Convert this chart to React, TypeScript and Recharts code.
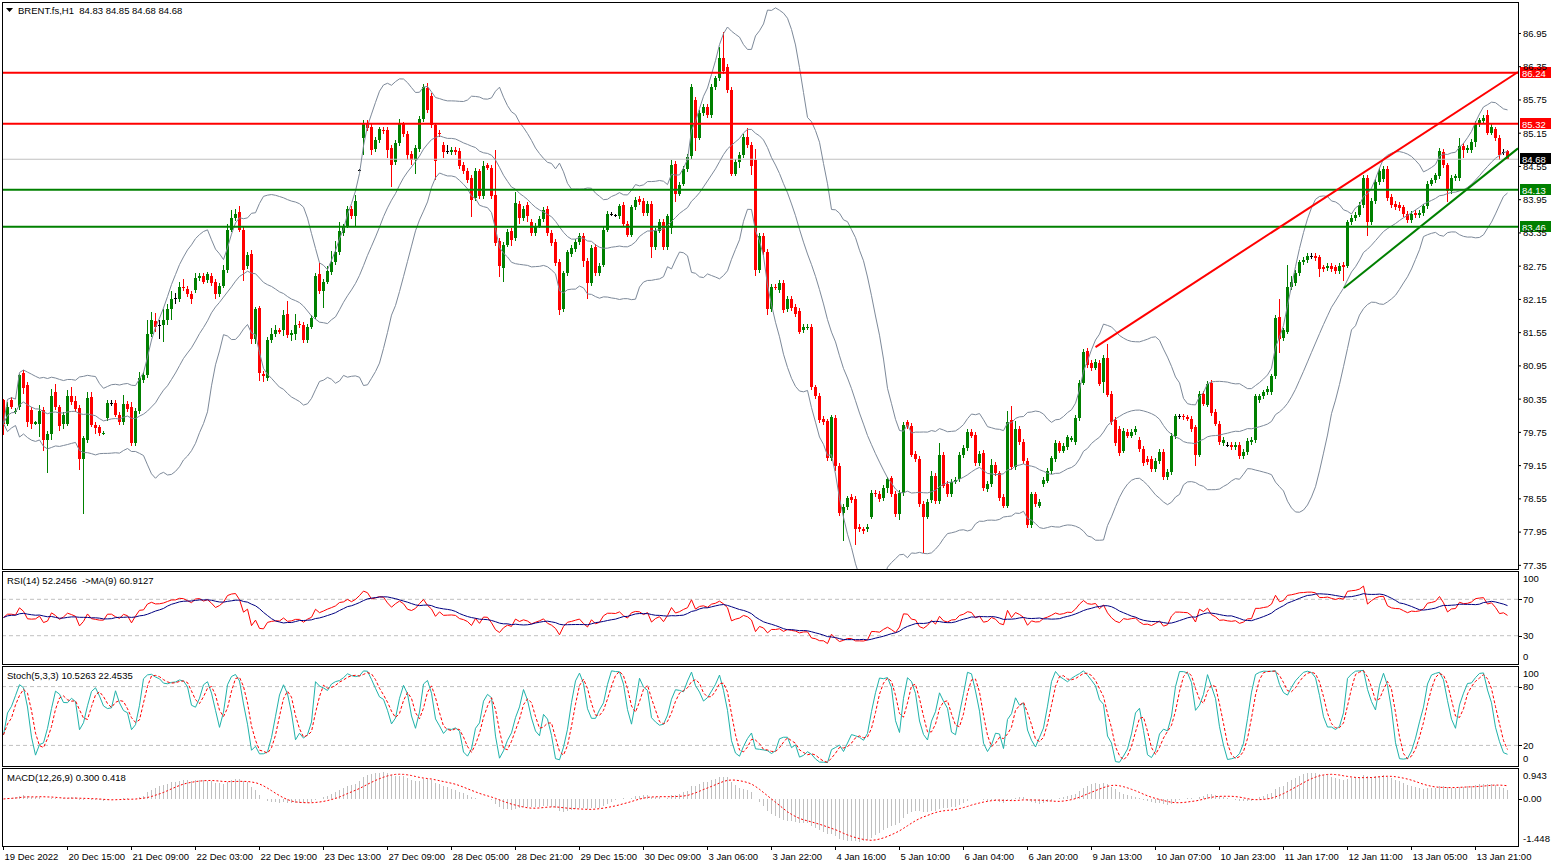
import React from 'react';
import { ComposedChart, Bar, Line, XAxis, YAxis, ReferenceLine } from 'recharts';

const FONT = '"Liberation Sans", Arial, sans-serif';
const UP = '#008000';
const DOWN = '#ff0000';
const BAND = '#7d8999';

// hourly candles, 19 Dec 2022 -> 13 Jan 2023
const opens = [
  80.33, 79.91, 80.33, 80.13, 80.20, 80.83, 80.61, 80.15, 79.91, 79.91,
  80.15, 79.61, 79.72, 80.48, 80.20, 79.91, 79.91, 80.41, 80.31, 80.19,
  79.27, 79.61, 80.39, 79.89, 79.84, 79.73, 80.01, 80.28, 80.28, 80.07,
  79.94, 80.27, 80.20, 79.55, 80.14, 80.69, 80.79, 81.53, 81.76, 81.68,
  81.68, 81.78, 81.97, 82.17, 82.16, 82.37, 82.34, 82.25, 82.32, 82.53,
  82.58, 82.50, 82.57, 82.46, 82.24, 82.40, 82.68, 83.41, 83.62, 83.73,
  83.41, 82.75, 82.97, 81.44, 81.99, 80.81, 80.73, 81.42, 81.53, 81.59,
  81.59, 81.88, 81.50, 81.52, 81.71, 81.69, 81.42, 81.66, 81.84, 82.60,
  82.30, 82.47, 82.64, 82.82, 83.00, 83.35, 83.48, 83.78, 83.65, 84.48,
  85.06, 85.34, 85.27, 84.86, 85.03, 85.21, 85.21, 84.88, 84.63, 84.97,
  85.31, 85.14, 84.78, 84.67, 84.86, 85.41, 85.96, 85.83, 85.29, 85.16,
  84.94, 84.83, 84.81, 84.85, 84.83, 84.58, 84.47, 84.35, 83.98, 84.46,
  84.01, 84.57, 84.53, 84.04, 83.21, 82.71, 83.14, 83.39, 83.25, 83.87,
  83.62, 83.85, 83.55, 83.35, 83.48, 83.60, 83.78, 83.35, 83.19, 82.83,
  81.97, 82.62, 82.97, 83.06, 83.19, 83.29, 82.84, 82.45, 83.10, 82.62,
  82.78, 83.41, 83.69, 83.67, 83.65, 83.85, 83.52, 83.32, 83.81, 83.96,
  83.93, 83.71, 83.88, 83.10, 83.39, 83.55, 83.10, 83.43, 84.60, 84.06,
  84.24, 84.50, 84.73, 85.75, 85.07, 85.51, 85.63, 85.47, 85.98, 86.14,
  86.50, 86.34, 85.93, 84.42, 84.63, 84.76, 85.09, 84.94, 84.67, 82.68,
  83.29, 83.01, 81.97, 82.38, 82.32, 82.45, 81.97, 82.16, 82.01, 81.94,
  81.59, 81.65, 81.65, 80.56, 80.41, 79.99, 79.95, 79.28, 80.01, 79.15,
  78.29, 78.40, 78.58, 78.55, 78.04, 78.00, 78.00, 78.23, 78.66, 78.64,
  78.57, 78.75, 78.92, 78.64, 78.27, 78.66, 79.93, 79.87, 79.36, 79.27,
  78.46, 78.23, 78.53, 78.96, 78.51, 79.35, 78.82, 78.64, 78.86, 78.90,
  79.34, 79.47, 79.76, 79.71, 79.20, 79.38, 78.73, 78.82, 79.17, 79.01,
  78.59, 78.43, 79.97, 79.12, 79.81, 79.58, 79.23, 78.07, 78.63, 78.43,
  78.82, 78.88, 79.05, 79.27, 79.55, 79.42, 79.49, 79.62, 79.58, 80.01,
  80.65, 81.22, 81.00, 80.92, 81.00, 80.66, 81.09, 80.45, 79.97, 79.81,
  79.42, 79.76, 79.69, 79.76, 79.61, 79.45, 79.27, 79.27, 79.09, 79.23,
  79.40, 78.94, 79.03, 79.68, 80.04, 80.04, 80.02, 80.00, 79.84, 79.35,
  80.45, 80.25, 80.65, 80.12, 79.91, 79.56, 79.53, 79.53, 79.49, 79.53,
  79.32, 79.40, 79.58, 79.61, 80.33, 80.40, 80.47, 80.48, 80.76, 81.83,
  81.45, 81.57, 82.37, 82.45, 82.63, 82.82, 82.86, 82.93, 82.93, 82.91,
  82.73, 82.71, 82.75, 82.73, 82.66, 82.77, 82.76, 83.54, 83.62, 83.68,
  83.85, 84.35, 83.54, 83.93, 84.27, 84.32, 84.50, 84.00, 83.87, 83.85,
  83.81, 83.69, 83.58, 83.71, 83.67, 83.71, 83.83, 84.24, 84.30, 84.37,
  84.81, 84.57, 84.11, 84.34, 84.34, 84.92, 84.85, 84.85, 85.00, 85.32,
  85.37, 85.47, 85.16, 85.22, 85.06, 84.81, 84.83,
];

const closes = [
  79.91, 80.20, 80.20, 80.14, 80.79, 80.55, 79.94, 79.91, 79.93, 80.14,
  79.61, 79.72, 80.41, 80.20, 79.87, 80.07, 80.41, 80.30, 80.17, 79.27,
  79.64, 80.37, 79.89, 79.82, 79.74, 79.74, 80.28, 80.28, 80.07, 79.94,
  80.27, 80.17, 79.56, 80.14, 80.74, 80.79, 81.53, 81.78, 81.66, 81.68,
  81.78, 81.97, 82.16, 82.17, 82.37, 82.35, 82.25, 82.16, 82.53, 82.58,
  82.47, 82.60, 82.45, 82.25, 82.40, 82.68, 83.41, 83.62, 83.69, 83.41,
  82.68, 82.96, 81.44, 81.97, 80.83, 80.76, 81.42, 81.53, 81.59, 81.57,
  81.86, 81.51, 81.55, 81.68, 81.68, 81.42, 81.66, 81.81, 82.57, 82.30,
  82.47, 82.66, 82.82, 83.00, 83.39, 83.47, 83.78, 83.65, 83.93, 84.48,
  85.34, 85.24, 84.85, 85.03, 85.22, 85.19, 84.85, 84.57, 84.97, 85.31,
  85.14, 84.76, 84.67, 84.88, 85.41, 85.98, 85.57, 85.29, 84.65, 85.14,
  84.81, 84.83, 84.85, 84.81, 84.55, 84.46, 84.30, 83.94, 84.47, 84.01,
  84.55, 84.53, 84.01, 83.17, 82.75, 83.14, 83.37, 83.22, 83.89, 83.62,
  83.78, 83.65, 83.35, 83.48, 83.60, 83.76, 83.35, 83.16, 82.81, 81.96,
  82.62, 83.00, 83.08, 83.19, 83.29, 82.84, 82.45, 83.08, 82.62, 82.76,
  83.41, 83.69, 83.69, 83.67, 83.83, 83.52, 83.32, 83.81, 83.94, 83.91,
  83.71, 83.88, 83.10, 83.39, 83.55, 83.10, 83.65, 84.57, 84.06, 84.22,
  84.50, 84.72, 85.98, 85.07, 85.51, 85.62, 85.47, 85.98, 86.14, 86.50,
  86.27, 85.93, 84.42, 84.63, 84.76, 85.09, 84.94, 84.55, 82.68, 83.29,
  83.00, 81.97, 82.38, 82.37, 82.45, 81.96, 82.16, 81.99, 81.88, 81.57,
  81.65, 81.66, 80.56, 80.40, 79.97, 79.94, 79.28, 80.02, 79.15, 78.29,
  78.40, 78.56, 78.53, 78.00, 78.00, 77.97, 78.05, 78.66, 78.63, 78.55,
  78.75, 78.90, 78.63, 78.27, 78.66, 79.89, 79.86, 79.35, 79.27, 78.46,
  78.23, 78.49, 78.96, 78.51, 79.35, 78.79, 78.64, 78.86, 78.89, 79.34,
  79.47, 79.76, 79.69, 79.20, 79.36, 78.74, 78.82, 79.17, 79.01, 78.56,
  78.43, 79.94, 79.12, 79.81, 79.58, 79.23, 78.07, 78.63, 78.46, 78.49,
  78.89, 79.05, 79.28, 79.56, 79.42, 79.50, 79.66, 79.64, 80.01, 80.65,
  81.20, 80.96, 80.91, 81.02, 80.63, 81.09, 80.43, 79.93, 79.56, 79.38,
  79.77, 79.69, 79.76, 79.81, 79.45, 79.20, 79.22, 79.09, 79.23, 79.40,
  78.94, 79.03, 79.68, 80.04, 80.04, 80.02, 80.00, 79.81, 79.35, 80.45,
  80.27, 80.63, 80.10, 79.91, 79.58, 79.61, 79.53, 79.49, 79.53, 79.32,
  79.40, 79.60, 79.62, 80.40, 80.40, 80.47, 80.53, 80.76, 81.81, 81.44,
  81.59, 82.37, 82.47, 82.63, 82.82, 82.86, 82.93, 82.93, 82.90, 82.70,
  82.70, 82.75, 82.70, 82.66, 82.76, 82.73, 83.54, 83.62, 83.68, 83.85,
  84.35, 83.54, 83.93, 84.27, 84.47, 84.50, 83.98, 83.85, 83.81, 83.80,
  83.69, 83.58, 83.69, 83.67, 83.71, 83.83, 84.24, 84.30, 84.39, 84.83,
  84.57, 84.11, 84.34, 84.37, 84.92, 84.85, 84.88, 85.00, 85.32, 85.38,
  85.42, 85.16, 85.26, 85.06, 84.76, 84.81, 84.68,
];

// wick lengths above / below the body, in cents
const wickUp = [
  3, 10, 5, 5, 2, 5, 5, 5, 3, 10, 5, 5, 12, 15, 5, 5, 10, 15, 10, 5,
  5, 10, 8, 5, 5, 3, 5, 5, 5, 5, 15, 5, 10, 5, 10, 5, 25, 15, 15, 10,
  20, 10, 15, 10, 10, 15, 5, 5, 10, 5, 5, 5, 5, 5, 5, 10, 10, 15, 10, 10,
  5, 5, 8, 5, 5, 5, 5, 10, 10, 5, 10, 25, 5, 20, 5, 5, 5, 5, 5, 20,
  5, 10, 20, 20, 15, 5, 5, 5, 10, 2, 5, 5, 5, 5, 5, 5, 5, 5, 5, 10,
  5, 5, 5, 5, 5, 5, 10, 5, 5, 5, 5, 10, 5, 5, 5, 5, 5, 5, 5, 5,
  10, 5, 5, 81, 5, 5, 5, 5, 20, 5, 5, 5, 5, 5, 5, 5, 5, 5, 5, 5,
  5, 5, 5, 5, 5, 5, 5, 5, 5, 5, 5, 5, 3, 3, 5, 5, 5, 5, 5, 5,
  5, 5, 5, 5, 5, 5, 5, 10, 5, 5, 5, 5, 5, 5, 5, 5, 5, 5, 5, 20,
  47, 5, 5, 5, 5, 5, 15, 5, 20, 5, 5, 5, 5, 5, 5, 5, 5, 5, 5, 5,
  5, 5, 5, 5, 5, 5, 5, 5, 5, 5, 5, 5, 5, 5, 5, 5, 5, 5, 5, 5,
  5, 5, 5, 5, 5, 5, 5, 5, 5, 5, 5, 5, 10, 5, 20, 5, 5, 5, 5, 5,
  5, 5, 5, 5, 5, 5, 5, 10, 5, 5, 5, 20, 25, 15, 5, 5, 5, 5, 5, 5,
  5, 5, 5, 5, 5, 5, 5, 5, 5, 5, 5, 5, 5, 5, 5, 5, 26, 5, 5, 5,
  5, 5, 5, 5, 5, 5, 5, 5, 5, 5, 5, 5, 5, 5, 5, 5, 5, 5, 5, 5,
  5, 5, 5, 5, 5, 5, 5, 5, 5, 5, 5, 5, 5, 5, 5, 5, 5, 5, 5, 33,
  5, 40, 10, 5, 5, 5, 5, 5, 5, 5, 5, 5, 5, 5, 5, 5, 5, 5, 5, 5,
  5, 5, 5, 5, 5, 5, 5, 5, 5, 5, 5, 5, 5, 5, 5, 5, 5, 5, 5, 5,
  5, 5, 5, 5, 15, 5, 5, 5, 5, 5, 5, 10, 5, 5, 5, 5, 2,
];

const wickDn = [
  20, 5, 3, 5, 5, 10, 10, 10, 3, 25, 20, 59, 10, 5, 10, 10, 5, 5, 5, 20,
  100, 5, 5, 10, 5, 3, 5, 5, 5, 5, 5, 5, 5, 5, 5, 5, 5, 5, 10, 25,
  30, 10, 20, 10, 5, 5, 5, 10, 5, 5, 5, 5, 5, 10, 5, 5, 5, 5, 5, 5,
  20, 5, 10, 10, 15, 10, 5, 5, 5, 5, 10, 5, 10, 10, 5, 5, 5, 5, 5, 5,
  30, 5, 5, 5, 5, 5, 5, 5, 20, 2, 30, 5, 10, 5, 5, 5, 15, 40, 5, 5,
  5, 10, 10, 25, 5, 5, 5, 5, 35, 5, 10, 5, 5, 5, 5, 5, 5, 30, 5, 5,
  5, 5, 5, 5, 20, 25, 5, 10, 5, 10, 5, 10, 5, 5, 5, 5, 5, 5, 5, 10,
  5, 5, 5, 5, 5, 10, 30, 5, 5, 5, 5, 5, 3, 3, 5, 5, 5, 5, 5, 5,
  5, 5, 20, 5, 5, 5, 5, 10, 15, 5, 5, 5, 5, 25, 5, 5, 5, 5, 5, 5,
  5, 5, 5, 5, 10, 5, 5, 15, 10, 5, 5, 10, 5, 5, 5, 5, 5, 5, 5, 5,
  5, 5, 5, 5, 5, 5, 5, 5, 10, 5, 50, 5, 5, 29, 5, 5, 5, 5, 5, 5,
  5, 10, 5, 5, 10, 5, 5, 5, 5, 5, 65, 5, 5, 5, 5, 5, 5, 5, 5, 5,
  5, 5, 5, 5, 5, 5, 5, 5, 5, 5, 5, 5, 5, 5, 5, 5, 5, 5, 5, 5,
  5, 5, 5, 5, 5, 5, 5, 5, 5, 5, 5, 5, 5, 5, 5, 20, 5, 5, 5, 5,
  5, 5, 5, 5, 5, 5, 5, 5, 5, 5, 5, 5, 5, 5, 5, 5, 5, 5, 20, 5,
  5, 5, 5, 5, 5, 5, 5, 5, 5, 5, 5, 5, 5, 5, 5, 5, 5, 5, 5, 25,
  5, 5, 5, 5, 5, 5, 5, 5, 5, 15, 5, 5, 5, 5, 5, 24, 5, 5, 5, 5,
  5, 25, 5, 5, 5, 5, 5, 5, 5, 5, 5, 5, 5, 5, 5, 5, 5, 5, 5, 5,
  5, 20, 5, 5, 5, 15, 5, 5, 10, 5, 5, 5, 5, 5, 10, 5, 0,
];

const timeLabels = [
  '19 Dec 2022', '20 Dec 15:00', '21 Dec 09:00', '22 Dec 03:00', '22 Dec 19:00', '23 Dec 13:00',
  '27 Dec 09:00', '28 Dec 05:00', '28 Dec 21:00', '29 Dec 15:00', '30 Dec 09:00', '3 Jan 06:00',
  '3 Jan 22:00', '4 Jan 16:00', '5 Jan 10:00', '6 Jan 04:00', '6 Jan 20:00', '9 Jan 13:00',
  '10 Jan 07:00', '10 Jan 23:00', '11 Jan 17:00', '12 Jan 11:00', '13 Jan 05:00', '13 Jan 21:00',
];
const timeTicks = timeLabels.map((_, k) => k * 16);

const priceTicks = [86.95, 86.35, 85.75, 85.15, 84.55, 83.95, 83.35, 82.75, 82.15, 81.55, 80.95, 80.35, 79.75, 79.15, 78.55, 77.95, 77.35];
const rsiTicks = [0, 30, 70, 100];
const stochTicks = [0, 20, 80, 100];
const macdTicks = [-1.448, 0, 0.943];

const levels = [
  { y: 86.24, color: '#ff0000', width: 2 },
  { y: 85.32, color: '#ff0000', width: 2 },
  { y: 84.13, color: '#008000', width: 2 },
  { y: 83.46, color: '#008000', width: 2 },
];
const bidPrice = 84.68;

const redTrend = [{ x: 273.0, y: 81.29 }, { x: 378.625, y: 86.255 }];
const greenTrend = [{ x: 335.1, y: 82.356 }, { x: 378.625, y: 84.876 }];

const X0 = -0.125;
const X1 = 378.625;

// ---- derived series (indicators) ----
const highs = closes.map((c, i) => Math.max(opens[i], c) + wickUp[i] / 100);
const lows = closes.map((c, i) => Math.min(opens[i], c) - wickDn[i] / 100);

const win = (arr: number[], i: number, n: number) => arr.slice(Math.max(0, i - n + 1), i + 1);
const mean = (a: number[]) => a.reduce((s, v) => s + v, 0) / a.length;
const sum = (a: number[]) => a.reduce((s, v) => s + v, 0);

const bands = closes.map((_, i) => {
  const w = win(closes, i, 20);
  const m = mean(w);
  const sd = Math.sqrt(mean(w.map((v) => (v - m) ** 2)));
  return { mid: m, up: m + 2 * sd, lo: m - 2 * sd };
});

const changes = closes.map((c, i) => (i ? c - closes[i - 1] : 0));
const seed = mean(changes.slice(1, 15).map(Math.abs)) / 2;
let avgGain = seed;
let avgLoss = seed;
const rsi = closes.map((_, i) => {
  if (i > 0) {
    avgGain = (avgGain * 13 + Math.max(changes[i], 0)) / 14;
    avgLoss = (avgLoss * 13 + Math.max(-changes[i], 0)) / 14;
  }
  return avgLoss === 0 ? 100 : 100 - 100 / (1 + avgGain / avgLoss);
});
const rsiMa = rsi.map((_, i) => mean(win(rsi, i, 9)));

const stNum = closes.map((c, i) => c - Math.min(...win(lows, i, 5)));
const stDen = closes.map((_, i) => Math.max(...win(highs, i, 5)) - Math.min(...win(lows, i, 5)));
const stK = closes.map((_, i) => {
  const d = sum(win(stDen, i, 3));
  return d ? (100 * sum(win(stNum, i, 3))) / d : 50;
});
const stD = stK.map((_, i) => mean(win(stK, i, 3)));

const ema = (n: number) => {
  const k = 2 / (n + 1);
  let e = closes[0];
  return closes.map((c) => (e = e + k * (c - e)));
};
const ema12 = ema(12);
const ema26 = ema(26);
const macd = closes.map((_, i) => ema12[i] - ema26[i]);
const signal = macd.map((_, i) => mean(win(macd, i, 9)));

const rows = closes.map((c, i) => ({
  i,
  open: opens[i],
  close: c,
  high: highs[i],
  low: lows[i],
  range: [lows[i], highs[i]],
  bbUp: bands[i].up,
  bbMid: bands[i].mid,
  bbLo: bands[i].lo,
  rsi: rsi[i],
  rsiMa: rsiMa[i],
  stK: stK[i],
  stD: stD[i],
  macd: macd[i],
  signal: signal[i],
}));

// ---- shapes ----
function Candle(props: any) {
  const { x, y, width, height, payload } = props;
  if (x == null || !payload) return null;
  const cx = Math.floor(x + width / 2) + 0.5;
  const top = Math.min(y, y + height);
  const h = Math.abs(height);
  const { open, close, high, low } = payload;
  const span = high - low || 1;
  const py = (p: number) => top + ((high - p) / span) * h;
  const doji = Math.abs(open - close) < 0.005;
  const color = doji ? '#000000' : close > open ? UP : DOWN;
  const b0 = Math.round(py(Math.max(open, close)));
  const b1 = Math.round(py(Math.min(open, close)));
  return (
    <g>
      <line x1={cx} x2={cx} y1={top} y2={top + h} stroke={color} strokeWidth={1} shapeRendering="crispEdges" />
      {doji ? (
        <line x1={cx - 1.5} x2={cx + 1.5} y1={b0 + 0.5} y2={b0 + 0.5} stroke={color} strokeWidth={1} shapeRendering="crispEdges" />
      ) : (
        <rect x={cx - 1.5} y={b0} width={3} height={Math.max(1, b1 - b0)} fill={color} shapeRendering="crispEdges" />
      )}
    </g>
  );
}

function HistLine(props: any) {
  const { x, y, width, height } = props;
  if (x == null || y == null) return null;
  const cx = Math.floor(x + width / 2) + 0.5;
  return <line x1={cx} x2={cx} y1={y} y2={y + height} stroke="#c0c0c0" strokeWidth={1} shapeRendering="crispEdges" />;
}

function PriceTag(props: any) {
  const { viewBox, value, bg } = props;
  if (!viewBox) return null;
  const x = viewBox.x + viewBox.width + 2;
  const y = Math.round(viewBox.y);
  return (
    <g>
      <rect x={x} y={y - 6} width={31} height={11} fill={bg} />
      <text x={x + 2} y={y + 3.5} fill="#ffffff" fontSize={9.5} fontFamily={FONT}>
        {value.toFixed(2)}
      </text>
    </g>
  );
}

function TimeTick(props: any) {
  const { x, y, payload } = props;
  const k = Math.round(payload.value / 16);
  const px = Math.floor(x) + 0.5;
  return (
    <g>
      <line x1={px} x2={px} y1={y + 1} y2={y + 5} stroke="#000" strokeWidth={1} shapeRendering="crispEdges" />
      <text x={px + 1} y={y + 15} fontSize={9.5} fontFamily={FONT} fill="#000">
        {timeLabels[k]}
      </text>
    </g>
  );
}

// right-hand scale label of an indicator window: the extreme labels are pulled inside the window
function SideTick(props: any) {
  const { x, y, payload, top, bottom, fmt } = props;
  const ty = Math.min(Math.max(y, top + 6.5), bottom - 6.5);
  const clamped = ty !== y;
  const lx = 1518.5;
  return (
    <g>
      {!clamped && <line x1={lx} x2={lx + 3} y1={Math.round(y) + 0.5} y2={Math.round(y) + 0.5} stroke="#000" shapeRendering="crispEdges" />}
      <text x={x} y={ty} dy="0.355em" fontSize={9.5} fontFamily={FONT} fill="#000">
        {fmt ? fmt(payload.value) : String(payload.value)}
      </text>
    </g>
  );
}

const tickStyle = { fontSize: 9.5, fontFamily: FONT, fill: '#000' };

function frame(left: number, top: number, width: number, height: number) {
  return (
    <div
      style={{
        position: 'absolute', left, top, width, height, boxSizing: 'border-box',
        border: '1px solid #000', pointerEvents: 'none',
      }}
    />
  );
}

const macdFmt = (v: number) => (v === 0 ? '0.00' : v.toFixed(3));

export default function App() {
  return (
    <div style={{ position: 'absolute', left: 0, top: 0, width: 1558, height: 868, background: '#fff', overflow: 'hidden' }}>
      {/* main price window */}
      <div style={{ position: 'absolute', left: 0, top: 0 }}>
        <ComposedChart width={1558} height={569} data={rows} margin={{ top: 3, right: 0, bottom: 0, left: 3 }}>
          <XAxis type="number" dataKey="i" domain={[X0, X1]} hide allowDataOverflow />
          <YAxis
            orientation="right"
            width={40}
            domain={[77.284, 87.5]}
            ticks={priceTicks}
            allowDataOverflow
            axisLine={false}
            tickSize={3}
            tickMargin={2}
            tickLine={{ stroke: '#000' }}
            tick={tickStyle}
            tickFormatter={(v: number) => v.toFixed(2)}
            interval={0}
          />
          <ReferenceLine y={bidPrice} stroke="#c0c0c0" strokeWidth={1} label={<PriceTag value={bidPrice} bg="#000000" />} />
          <Bar dataKey="range" barSize={3} shape={(p: any) => <Candle {...p} />} isAnimationActive={false} />
          <Line dataKey="bbUp" stroke={BAND} strokeWidth={1} dot={false} isAnimationActive={false} />
          <Line dataKey="bbMid" stroke={BAND} strokeWidth={1} dot={false} isAnimationActive={false} />
          <Line dataKey="bbLo" stroke={BAND} strokeWidth={1} dot={false} isAnimationActive={false} />
          {levels.map((l) => (
            <ReferenceLine key={l.y} y={l.y} stroke={l.color} strokeWidth={l.width} label={<PriceTag value={l.y} bg={l.color} />} />
          ))}
          <ReferenceLine segment={redTrend} stroke="#ff0000" strokeWidth={2} />
          <ReferenceLine segment={greenTrend} stroke="#008000" strokeWidth={2} />
        </ComposedChart>
      </div>

      {/* RSI window */}
      <div style={{ position: 'absolute', left: 0, top: 571 }}>
        <ComposedChart width={1558} height={93} data={rows} margin={{ top: 1, right: 0, bottom: 1, left: 3 }}>
          <XAxis type="number" dataKey="i" domain={[X0, X1]} hide allowDataOverflow />
          <YAxis
            orientation="right" width={40} domain={[0, 100]} ticks={rsiTicks} allowDataOverflow interval={0}
            axisLine={false} tickLine={false} tickSize={3} tickMargin={2}
            tick={(p: any) => <SideTick {...p} top={1} bottom={92} />}
          />
          <ReferenceLine y={70} stroke="#c0c0c0" strokeDasharray="4 3" />
          <ReferenceLine y={30} stroke="#c0c0c0" strokeDasharray="4 3" />
          <Line dataKey="rsi" stroke="#ff0000" strokeWidth={1} dot={false} isAnimationActive={false} />
          <Line dataKey="rsiMa" stroke="#000080" strokeWidth={1} dot={false} isAnimationActive={false} />
        </ComposedChart>
      </div>

      {/* Stochastic window */}
      <div style={{ position: 'absolute', left: 0, top: 666 }}>
        <ComposedChart width={1558} height={100} data={rows} margin={{ top: 1, right: 0, bottom: 1, left: 3 }}>
          <XAxis type="number" dataKey="i" domain={[X0, X1]} hide allowDataOverflow />
          <YAxis
            orientation="right" width={40} domain={[0, 100]} ticks={stochTicks} allowDataOverflow interval={0}
            axisLine={false} tickLine={false} tickSize={3} tickMargin={2}
            tick={(p: any) => <SideTick {...p} top={1} bottom={99} />}
          />
          <ReferenceLine y={80} stroke="#c0c0c0" strokeDasharray="4 3" />
          <ReferenceLine y={20} stroke="#c0c0c0" strokeDasharray="4 3" />
          <Line dataKey="stK" stroke="#20b2aa" strokeWidth={1} dot={false} isAnimationActive={false} />
          <Line dataKey="stD" stroke="#ff0000" strokeWidth={1} strokeDasharray="3 2" dot={false} isAnimationActive={false} />
        </ComposedChart>
      </div>

      {/* MACD window + time axis */}
      <div style={{ position: 'absolute', left: 0, top: 768 }}>
        <ComposedChart width={1558} height={100} data={rows} margin={{ top: 1, right: 0, bottom: 0, left: 3 }}>
          <XAxis
            type="number"
            dataKey="i"
            domain={[X0, X1]}
            allowDataOverflow
            ticks={timeTicks}
            interval={0}
            height={23}
            axisLine={false}
            tickLine={false}
            tickSize={0}
            tickMargin={0}
            tick={(p: any) => <TimeTick {...p} />}
          />
          <YAxis
            orientation="right" width={40} domain={[-1.448, 0.943]} ticks={macdTicks} allowDataOverflow interval={0}
            axisLine={false} tickLine={false} tickSize={3} tickMargin={2}
            tick={(p: any) => <SideTick {...p} top={1} bottom={77} fmt={macdFmt} />}
          />
          <Bar dataKey="macd" barSize={1} shape={(p: any) => <HistLine {...p} />} isAnimationActive={false} />
          <Line dataKey="signal" stroke="#ff0000" strokeWidth={1} strokeDasharray="2 2" dot={false} isAnimationActive={false} />
        </ComposedChart>
      </div>

      {frame(2, 2, 1517, 568)}
      {frame(2, 571, 1517, 94)}
      {frame(2, 666, 1517, 101)}
      {frame(2, 768, 1517, 79)}

      <svg width={1558} height={868} style={{ position: 'absolute', left: 0, top: 0, pointerEvents: 'none' }}>
        <polygon points="6,8 13,8 9.5,12" fill="#000" />
        <text x={18} y={14} fontSize={9.5} fontFamily={FONT} fill="#000" style={{ whiteSpace: 'pre' }}>BRENT.fs,H1  84.83 84.85 84.68 84.68</text>
        <text x={7} y={584} fontSize={9.5} fontFamily={FONT} fill="#000" style={{ whiteSpace: 'pre' }}>RSI(14) 52.2456  -&gt;MA(9) 60.9127</text>
        <text x={7} y={679} fontSize={9.5} fontFamily={FONT} fill="#000">Stoch(5,3,3) 10.5263 22.4535</text>
        <text x={7} y={781} fontSize={9.5} fontFamily={FONT} fill="#000">MACD(12,26,9) 0.300 0.418</text>
      </svg>
    </div>
  );
}
